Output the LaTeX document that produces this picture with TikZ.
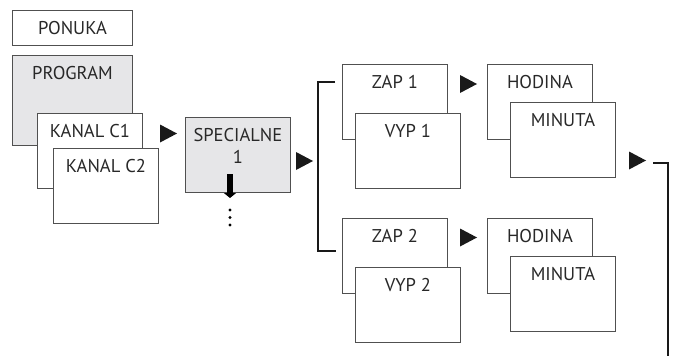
\documentclass[tikz,border=0pt]{standalone}
\usepackage{fontspec}
\setmainfont{PT Sans}
\usetikzlibrary{arrows.meta}
\definecolor{menugray}{RGB}{230,230,232}
\definecolor{framegray}{RGB}{80,80,80}
\definecolor{textgray}{RGB}{40,40,40}

\begin{document}
\begin{tikzpicture}[x=1pt,y=-1pt,
  screen/.style={draw=framegray,line width=0.9pt,fill=white,inner sep=0pt,
    minimum width=105pt,minimum height=75pt,anchor=north west},
  title/.style={anchor=center,yshift=-18pt,text=textgray,align=center,
    font=\fontsize{18.5}{22}\selectfont},
  bracket/.style={line width=2.6pt,black!90,line join=miter}]
\useasboundingbox (0,0) rectangle (675,356);

% menu column
\node[screen,minimum width=120pt,minimum height=35pt,text=textgray,
  font=\fontsize{18.5}{22}\selectfont] (ponuka) at (12,10) {PONUKA};
\node[screen,fill=menugray,minimum width=120pt,minimum height=90pt,
  label={[title]north:PROGRAM}] (program) at (12,55) {};
\node[screen,label={[title]north:KANAL C1}] (kanal1) at (37,113) {};
\node[screen,label={[title]north:KANAL C2}] (kanal2) at (53,148) {};

\node[screen,fill=menugray,label={[title,yshift=-11pt]north:SPECIALNE\\1}] (special) at (185,117) {};
\draw[line width=6.5pt,-{Triangle[length=5pt,width=12pt]}] (230,174) -- (230,198);
\foreach \d in {210,217.5,225}
  \fill (230,\d) circle (1.6);

% on / off screens
\node[screen,label={[title]north:ZAP 1}] (zap1) at (342,64) {};
\node[screen,label={[title]north:VYP 1}] (vyp1) at (355,113) {};
\node[screen,label={[title]north:ZAP 2}] (zap2) at (342,218) {};
\node[screen,label={[title]north:VYP 2}] (vyp2) at (355,267) {};

\node[screen,label={[title]north:HODINA}] (hod1) at (487,64) {};
\node[screen,label={[title]north:MINUTA}] (min1) at (510,102) {};
\node[screen,label={[title]north:HODINA}] (hod2) at (487,218) {};
\node[screen,label={[title]north:MINUTA}] (min2) at (510,256) {};

% arrow marks
\foreach \x/\y in {160/133.5,296/161,460/84,460/237.5,629/160.5}
  \fill[black!90] (\x,{\y-9}) -- ({\x+17},\y) -- (\x,{\y+9}) -- cycle;

\draw[bracket] (335,82) -- (318,82) -- (318,251) -- (336,251);
\draw[bracket] (653,163) -- (668,163) -- (668,358);
\end{tikzpicture}
\end{document}
